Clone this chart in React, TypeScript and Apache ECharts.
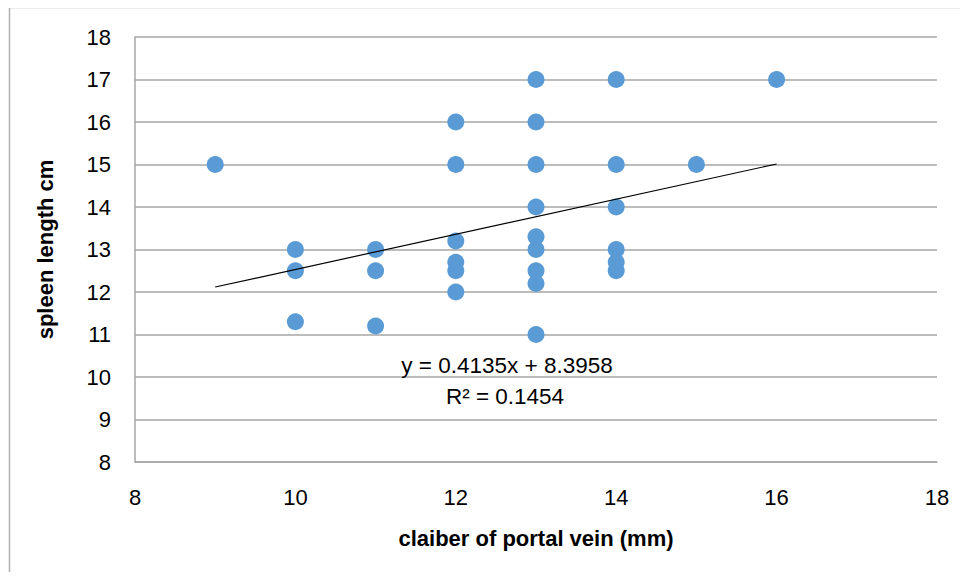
import React, { useEffect, useRef } from "react";
import * as echarts from "echarts";

const xValues = [9, 10, 10, 10, 11, 11, 11, 12, 12, 12, 12, 12, 12, 13, 13, 13, 13, 13, 13, 13, 13, 13, 14, 14, 14, 14, 14, 14, 15, 16];
const yValues = [15, 13, 12.5, 11.3, 13, 12.5, 11.2, 16, 15, 13.2, 12.7, 12.5, 12, 17, 16, 15, 14, 13.3, 13, 12.5, 12.2, 11, 17, 15, 14, 13, 12.7, 12.5, 15, 17];
const trendSlope = 0.4135;
const trendIntercept = 8.3958;
const trendR2 = 0.1454;
const trendXRange = [9, 16];
const xTitle = "claiber of portal vein (mm)";
const yTitle = "spleen length cm";

const FONT = "'Liberation Sans', Arial, sans-serif";

export default function App() {
  const ref = useRef<HTMLDivElement>(null);
  useEffect(() => {
    if (!ref.current) return;
    const chart = echarts.init(ref.current, null, { renderer: "svg" });
    const points = xValues.map((x, i) => [x, yValues[i]]);
    const trend = trendXRange.map((x) => [x, trendSlope * x + trendIntercept]);
    chart.setOption({
      animation: false,
      backgroundColor: "#ffffff",
      textStyle: { fontFamily: FONT },
      grid: { left: 135, right: 31, top: 37, bottom: 118 },
      xAxis: {
        type: "value",
        min: 8,
        max: 18,
        interval: 2,
        name: xTitle,
        nameLocation: "middle",
        nameGap: 65,
        nameTextStyle: { fontSize: 22, fontWeight: "bold", color: "#000", fontFamily: FONT },
        axisLine: { show: true, lineStyle: { color: "#a6a6a6", width: 1.5 } },
        axisTick: { show: false },
        splitLine: { show: false },
        axisLabel: { fontSize: 22, color: "#000", margin: 24, fontFamily: FONT },
      },
      yAxis: {
        type: "value",
        min: 8,
        max: 18,
        interval: 1,
        name: yTitle,
        nameLocation: "middle",
        nameGap: 79,
        nameRotate: 90,
        nameTextStyle: { fontSize: 22, fontWeight: "bold", color: "#000", fontFamily: FONT },
        axisLine: { show: true, lineStyle: { color: "#a6a6a6", width: 1.5 } },
        axisTick: { show: false },
        splitLine: { show: true, lineStyle: { color: "#a6a6a6", width: 1.5 } },
        axisLabel: { fontSize: 22, color: "#000", margin: 24, fontFamily: FONT },
      },
      graphic: [
        { type: "line", shape: { x1: 9.5, y1: 7, x2: 9.5, y2: 580 }, style: { stroke: "#b0b0b0", lineWidth: 1.5 } },
        { type: "line", shape: { x1: 9, y1: 7.5, x2: 968, y2: 7.5 }, style: { stroke: "#b0b0b0", lineWidth: 1.5 } },
        {
          type: "text",
          x: 507,
          y: 365,
          style: {
            text: `y = ${trendSlope}x + ${trendIntercept}`,
            fontSize: 22.5,
            fill: "#000",
            fontFamily: FONT,
            align: "center",
            verticalAlign: "middle",
          },
          z: 10,
        },
        {
          type: "text",
          x: 505,
          y: 396,
          style: {
            text: `R² = ${trendR2}`,
            fontSize: 22.5,
            fill: "#000",
            fontFamily: FONT,
            align: "center",
            verticalAlign: "middle",
          },
          z: 10,
        },
      ],
      series: [
        {
          type: "line",
          data: trend,
          symbol: "none",
          lineStyle: { color: "#000", width: 1.2 },
          z: 3,
        },
        {
          type: "scatter",
          data: points,
          symbol: "circle",
          symbolSize: 17,
          itemStyle: { color: "#5b9bd5", opacity: 1 },
          z: 2,
        },
      ],
    });
    return () => chart.dispose();
  }, []);
  return <div ref={ref} style={{ width: 968, height: 580, margin: -8 }} />;
}
